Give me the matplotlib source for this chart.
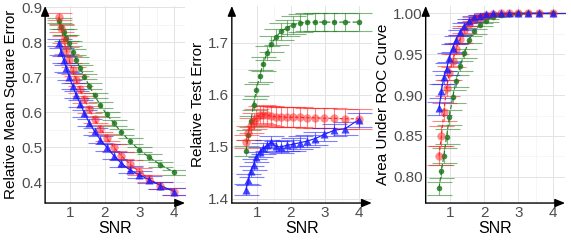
import numpy as np
import matplotlib
matplotlib.use("Agg")
import matplotlib.pyplot as plt

plt.rcParams['font.family'] = ['Liberation Sans', 'DejaVu Sans']

snr = [0.68, 0.75, 0.82, 0.90, 0.98, 1.08, 1.18, 1.30, 1.42, 1.56,
       1.71, 1.88, 2.06, 2.26, 2.48, 2.72, 2.99, 3.28, 3.60, 4.00]

# relative mean square error
mse_green = [0.862, 0.845, 0.830, 0.813, 0.797, 0.773, 0.750, 0.726, 0.702, 0.675,
             0.648, 0.620, 0.594, 0.569, 0.543, 0.517, 0.493, 0.471, 0.450, 0.428]
mse_red = [0.873, 0.840, 0.808, 0.778, 0.750, 0.720, 0.693, 0.665, 0.637, 0.608,
           0.580, 0.553, 0.527, 0.500, 0.475, 0.452, 0.430, 0.410, 0.390, 0.373]
mse_blue = [0.799, 0.773, 0.750, 0.726, 0.702, 0.675, 0.650, 0.624, 0.597, 0.570,
            0.545, 0.521, 0.500, 0.476, 0.454, 0.435, 0.421, 0.407, 0.390, 0.373]
mse_err = [0.008, 0.010, 0.010]

# relative test error
rte_green = [1.492, 1.523, 1.549, 1.581, 1.609, 1.636, 1.659, 1.681, 1.698, 1.711,
             1.722, 1.729, 1.735, 1.738, 1.740, 1.740, 1.740, 1.740, 1.740, 1.740]
rte_red = [1.510, 1.527, 1.541, 1.550, 1.556, 1.562, 1.562, 1.561, 1.559, 1.558,
           1.558, 1.557, 1.557, 1.557, 1.556, 1.556, 1.555, 1.555, 1.554, 1.554]
rte_blue = [1.418, 1.437, 1.453, 1.466, 1.480, 1.490, 1.497, 1.503, 1.509, 1.501,
            1.500, 1.503, 1.505, 1.508, 1.511, 1.516, 1.524, 1.532, 1.535, 1.552]
rte_err_green = [0.010, 0.010, 0.011, 0.011, 0.012, 0.012, 0.013, 0.014, 0.015, 0.015,
                 0.016, 0.016, 0.017, 0.017, 0.018, 0.018, 0.018, 0.018, 0.018, 0.018]
rte_err_red = [0.012, 0.013, 0.014, 0.015, 0.016, 0.017, 0.018, 0.018, 0.019, 0.019,
               0.019, 0.019, 0.019, 0.019, 0.019, 0.019, 0.019, 0.019, 0.019, 0.019]
rte_err_blue = [0.010, 0.010, 0.010, 0.010, 0.010, 0.010, 0.011, 0.011, 0.011, 0.011,
                0.011, 0.011, 0.012, 0.012, 0.012, 0.012, 0.012, 0.012, 0.013, 0.013]

# area under ROC curve
auc_green = [0.786, 0.807, 0.826, 0.849, 0.873, 0.898, 0.917, 0.936, 0.951, 0.968,
             0.978, 0.986, 0.991, 0.996, 0.998, 0.999, 1.000, 1.000, 1.000, 1.000]
auc_red = [0.826, 0.850, 0.879, 0.909, 0.927, 0.942, 0.956, 0.969, 0.980, 0.987,
           0.993, 0.996, 0.998, 0.999, 1.000, 1.000, 1.000, 1.000, 1.000, 1.000]
auc_blue = [0.884, 0.905, 0.922, 0.932, 0.946, 0.958, 0.968, 0.977, 0.985, 0.991,
            0.995, 0.997, 0.999, 1.000, 1.000, 1.000, 1.000, 1.000, 1.000, 1.000]
auc_err_green = [0.008, 0.008, 0.009, 0.009, 0.009, 0.008, 0.007, 0.006, 0.005, 0.004,
                 0.003, 0.002, 0.002, 0.001, 0.001, 0.0005, 0.0003, 0.0, 0.0, 0.0]
auc_err_red = [0.012, 0.012, 0.011, 0.010, 0.009, 0.008, 0.006, 0.005, 0.004, 0.003,
               0.002, 0.002, 0.001, 0.001, 0.0005, 0.0, 0.0, 0.0, 0.0, 0.0]
auc_err_blue = [0.008, 0.008, 0.008, 0.007, 0.006, 0.005, 0.004, 0.003, 0.003, 0.002,
                0.002, 0.001, 0.001, 0.0005, 0.0, 0.0, 0.0, 0.0, 0.0, 0.0]

GREEN = '#1f7a1f'
RED = '#ff2020'
BLUE = '#1a1aff'

fig = plt.figure(figsize=(5.71, 2.4), dpi=100)
boxes = [[0.079, 0.154, 0.245, 0.821],
         [0.406, 0.154, 0.245, 0.821],
         [0.7455, 0.154, 0.244, 0.821]]
axes = [fig.add_axes(b) for b in boxes]


def draw(ax, y, err, color, marker, ms, ls, alpha):
    ax.errorbar(snr, y, yerr=err, fmt='none', ecolor=color, elinewidth=0.8,
                capsize=9, capthick=0.8, alpha=0.55, zorder=2)
    ax.plot(snr, y, color=color, lw=0.8, ls=ls, zorder=3)
    ax.plot(snr, y, ls='none', marker=marker, ms=ms, color=color,
            alpha=alpha, mec='none', zorder=4)


def style(ax, ylabel, xlim, ylim, yticks, yfmt):
    ax.set_xlim(*xlim)
    ax.set_ylim(*ylim)
    ax.set_xticks([1, 2, 3, 4])
    ax.set_yticks(yticks)
    ax.set_yticklabels([yfmt.format(v) for v in yticks])
    ax.set_xticks([1.5, 2.5, 3.5], minor=True)
    step = yticks[1] - yticks[0]
    ax.set_yticks([v + step / 2 for v in yticks[:-1]], minor=True)
    ax.grid(True, which='major', color='#e3e3e3', lw=0.7)
    ax.grid(True, which='minor', color='#f3f3f3', lw=0.5)
    ax.set_axisbelow(True)
    for s in ax.spines.values():
        s.set_visible(False)
    ax.tick_params(which='both', length=0, labelsize=11, labelcolor='#4d4d4d', pad=2)
    ax.set_xlabel('SNR', fontsize=11.5, labelpad=1)
    ax.set_ylabel(ylabel, fontsize=11, labelpad=2)
    arrow = dict(arrowstyle='-|>,head_length=0.6,head_width=0.25', color='black', lw=1.0,
                 shrinkA=0, shrinkB=0)
    ax.annotate('', xy=(1, 0), xytext=(0, 0), xycoords='axes fraction',
                arrowprops=arrow, annotation_clip=False)
    ax.annotate('', xy=(0, 1), xytext=(0, 0), xycoords='axes fraction',
                arrowprops=arrow, annotation_clip=False)


ax = axes[0]
draw(ax, mse_green, mse_err[0], GREEN, 'o', 4, (0, (4, 2)), 0.85)
draw(ax, mse_red, mse_err[1], RED, 'o', 6, (0, (3, 2)), 0.5)
draw(ax, mse_blue, mse_err[2], BLUE, '^', 6, '-', 0.8)
style(ax, 'Relative Mean Square Error', (0.29, 4.31), (0.34, 0.904),
      [0.4, 0.5, 0.6, 0.7, 0.8, 0.9], '{:.1f}')

ax = axes[1]
draw(ax, rte_green, rte_err_green, GREEN, 'o', 4, (0, (4, 2)), 0.85)
draw(ax, rte_red, rte_err_red, RED, 'o', 6, (0, (3, 2)), 0.5)
draw(ax, rte_blue, rte_err_blue, BLUE, '^', 6, '-', 0.8)
style(ax, 'Relative Test Error', (0.26, 4.39), (1.392, 1.771),
      [1.4, 1.5, 1.6, 1.7], '{:.1f}')

ax = axes[2]
draw(ax, auc_green, auc_err_green, GREEN, 'o', 4, (0, (4, 2)), 0.85)
draw(ax, auc_red, auc_err_red, RED, 'o', 6, (0, (3, 2)), 0.5)
draw(ax, auc_blue, auc_err_blue, BLUE, '^', 6, '-', 0.8)
style(ax, 'Area Under ROC Curve', (0.29, 4.36), (0.768, 1.009),
      [0.80, 0.85, 0.90, 0.95, 1.00], '{:.2f}')

fig.savefig('out.png', dpi=100)
